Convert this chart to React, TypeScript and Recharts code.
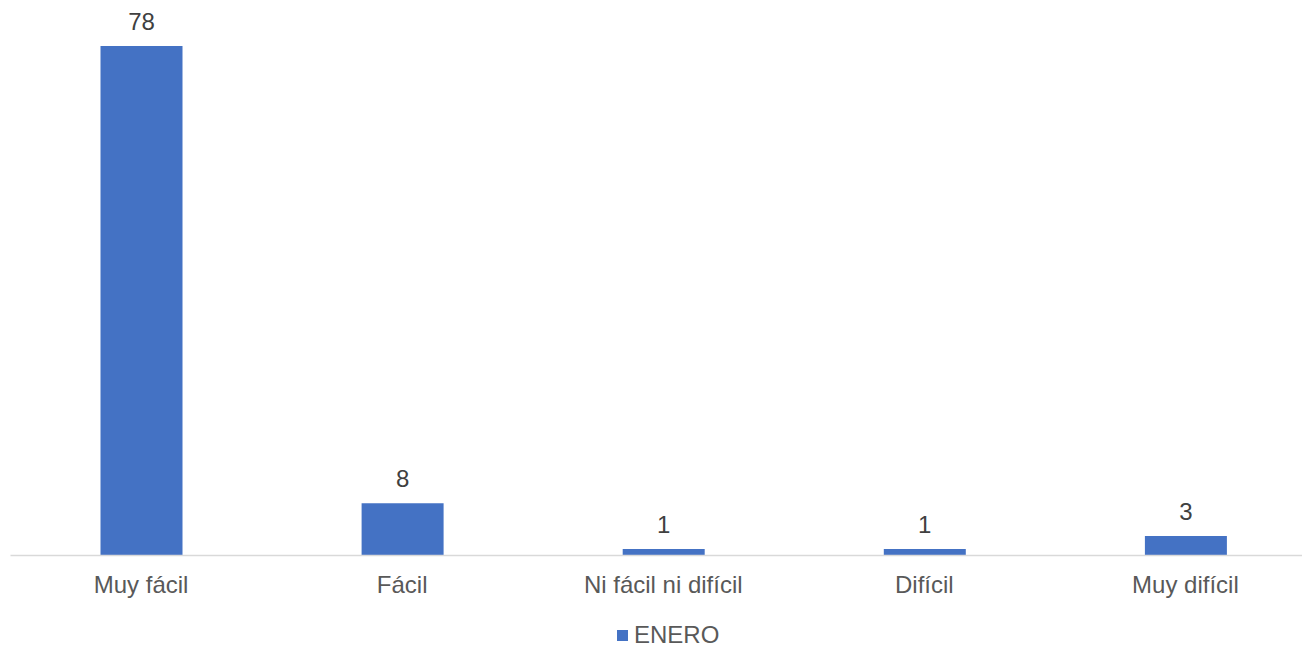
import React from "react";
import { BarChart, Bar, XAxis, YAxis, LabelList } from "recharts";

const categories = ["Muy fácil", "Fácil", "Ni fácil ni difícil", "Difícil", "Muy difícil"];
const enero = [78, 8, 1, 1, 3];
const seriesName = "ENERO";

const data = categories.map((name, i) => ({ name, value: enero[i] }));

const FONT = "'Liberation Sans', Arial, sans-serif";

const App = () => {
  return (
    <div
      style={{
        position: "absolute",
        left: 0,
        top: 0,
        width: 1302,
        height: 647,
        overflow: "hidden",
        background: "#fff",
        fontFamily: FONT,
      }}
    >
      <BarChart
        width={1316}
        height={647}
        data={data}
        margin={{ top: 46, right: 0, left: 10.5, bottom: 31.5 }}
        barCategoryGap={0}
      >
        <YAxis hide domain={[0, 78]} />
        <XAxis
          dataKey="name"
          height={60}
          tickLine={false}
          tickSize={0}
          tickMargin={20}
          interval={0}
          axisLine={{ stroke: "#d9d9d9", strokeWidth: 1.5 }}
          tick={{ fill: "#595959", fontSize: 24, fontFamily: FONT }}
        />
        <Bar dataKey="value" name={seriesName} fill="#4472c4" barSize={82} isAnimationActive={false}>
          <LabelList
            dataKey="value"
            position="top"
            offset={16}
            fill="#404040"
            fontSize={24}
            fontFamily={FONT}
          />
        </Bar>
      </BarChart>
      <div
        style={{
          position: "absolute",
          left: 617,
          top: 621,
          display: "flex",
          alignItems: "center",
          fontSize: 24,
          color: "#595959",
        }}
      >
        <span style={{ display: "inline-block", width: 11, height: 11, background: "#4472c4", marginRight: 6 }} />
        <span>{seriesName}</span>
      </div>
    </div>
  );
};

export default App;
